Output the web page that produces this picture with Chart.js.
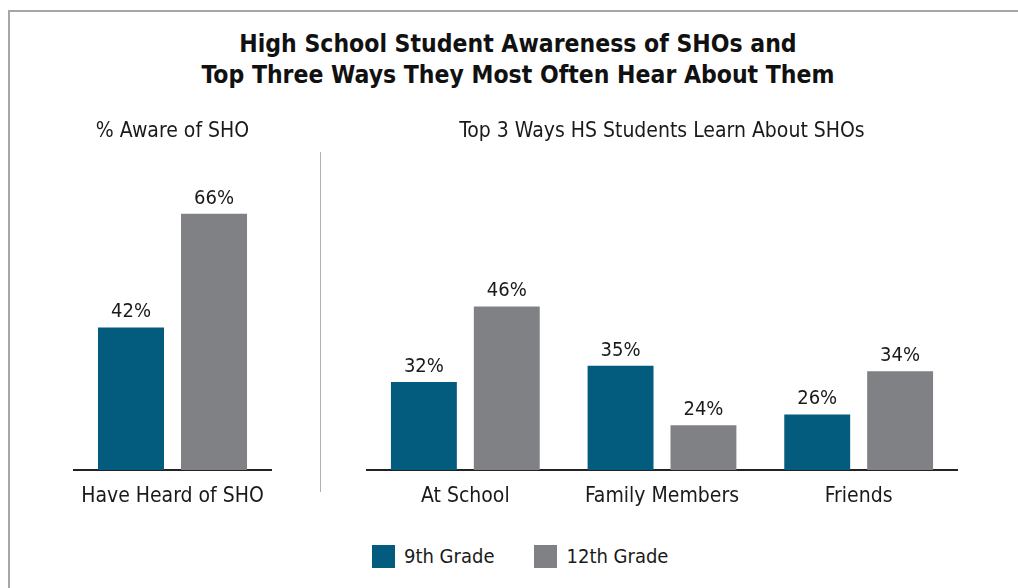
<!DOCTYPE html>
<html>
<head>
<meta charset="utf-8">
<script src="https://cdn.jsdelivr.net/npm/chart.js@4.4.1/dist/chart.umd.min.js"></script>
<style>
  html, body { margin: 0; padding: 0; background: #fff; }
  body { width: 1018px; height: 588px; position: relative; overflow: hidden;
         font-family: 'DejaVu Sans Condensed', 'DejaVu Sans', sans-serif; color: #1a1a1a; }
  .frame { position: absolute; left: 8px; top: 10px; width: 1040px; height: 600px;
           border-top: 2px solid #a6a6a6; border-left: 2px solid #a6a6a6; }
  .title { position: absolute; left: 0; top: 28px; width: 1036px; text-align: center;
           font-size: 24.5px; font-weight: bold; line-height: 31px; white-space: nowrap; color: #111; }
  .divider { position: absolute; left: 320px; top: 152px; width: 1px; height: 340px; background: #b0b0b0; }
  .box { position: absolute; }
  .legend { position: absolute; top: 545px; left: 372px; display: flex; align-items: center;
            font-size: 20px; line-height: 23px; white-space: nowrap; }
  .legend .sw { width: 23px; height: 23px; display: inline-block; margin-right: 9px; }
  .legend .item { display: flex; align-items: center; margin-right: 40px; }
</style>
</head>
<body>
<div class="frame"></div>
<div class="title">High School Student Awareness of SHOs and<br>Top Three Ways They Most Often Hear About Them</div>
<div class="divider"></div>
<div class="box" style="left:54px; top:112px; width:237px; height:403px;"><canvas id="awareChart"></canvas></div>
<div class="box" style="left:347px; top:112px; width:630px; height:403px;"><canvas id="waysChart"></canvas></div>
<div class="legend" id="legend"></div>

<script>
const seriesNames = ['9th Grade', '12th Grade'];
const seriesColors = ['#035b7d', '#808185'];

const awareCategories = ['Have Heard of SHO'];
const aware9th = [42];
const aware12th = [66];

const waysCategories = ['At School', 'Family Members', 'Friends'];
const ways9th = [32, 35, 26];
const ways12th = [46, 24, 34];

const FONT = "'DejaVu Sans Condensed', 'DejaVu Sans', sans-serif";

// value labels above each bar
const barLabels = {
  id: 'barLabels',
  afterDatasetsDraw(chart) {
    const ctx = chart.ctx;
    ctx.save();
    ctx.font = '20px ' + FONT;
    ctx.fillStyle = '#1a1a1a';
    ctx.textAlign = 'center';
    ctx.textBaseline = 'alphabetic';
    chart.data.datasets.forEach((ds, i) => {
      chart.getDatasetMeta(i).data.forEach((bar, j) => {
        ctx.fillText(ds.data[j] + '%', bar.x, bar.y - 10);
      });
    });
    ctx.restore();
  }
};

function makeChart(id, title, labels, d9, d12, yMin, yMax) {
  return new Chart(document.getElementById(id), {
    type: 'bar',
    data: {
      labels: labels,
      datasets: [
        { label: seriesNames[0], data: d9, backgroundColor: seriesColors[0] },
        { label: seriesNames[1], data: d12, backgroundColor: seriesColors[1] }
      ]
    },
    options: {
      responsive: true,
      maintainAspectRatio: false,
      animation: false,
      layout: { padding: { left: 20, right: 20, top: 0, bottom: 0 } },
      categoryPercentage: 0.843,
      barPercentage: 0.795,
      plugins: {
        legend: { display: false },
        tooltip: { enabled: false },
        title: {
          display: true,
          text: title,
          color: '#1a1a1a',
          font: { family: FONT, size: 21, weight: 'normal' },
          padding: { top: 7, bottom: 10 }
        }
      },
      scales: {
        x: {
          grid: { display: false, drawTicks: false },
          border: { display: true, color: '#222', width: 2 },
          ticks: { color: '#1a1a1a', font: { family: FONT, size: 21 }, padding: 14 },
          afterFit: (scale) => { scale.height = 45; }
        },
        y: { display: false, min: yMin, max: yMax }
      }
    },
    plugins: [barLabels]
  });
}

makeChart('awareChart', '% Aware of SHO', awareCategories, aware9th, aware12th, 11.9, 78.6);
makeChart('waysChart', 'Top 3 Ways HS Students Learn About SHOs', waysCategories, ways9th, ways12th, 15.7, 74.2);

// legend
const legend = document.getElementById('legend');
seriesNames.forEach((name, i) => {
  const item = document.createElement('span');
  item.className = 'item';
  const sw = document.createElement('span');
  sw.className = 'sw';
  sw.style.background = seriesColors[i];
  item.appendChild(sw);
  item.appendChild(document.createTextNode(name));
  legend.appendChild(item);
});
</script>
</body>
</html>
